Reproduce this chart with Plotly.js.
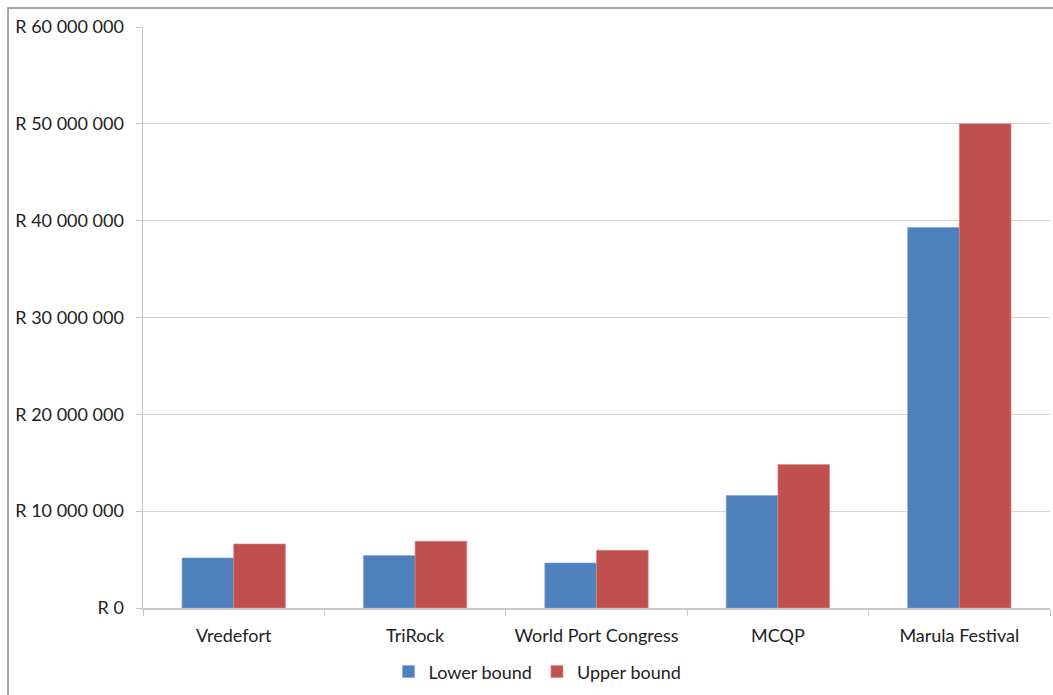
<!DOCTYPE html>
<html>
<head>
<meta charset="utf-8">
<script src="https://cdn.plot.ly/plotly-3.0.1.min.js"></script>
<style>html,body{margin:0;padding:0;background:#fff;}#chart{width:1053px;height:695px;}</style>
</head>
<body>
<div id="chart"></div>
<script>
const categories = ["Vredefort", "TriRock", "World Port Congress", "MCQP", "Marula Festival"];
const lowerBound = [5170000, 5410000, 4650000, 11610000, 39300000];
const upperBound = [6620000, 6890000, 5960000, 14820000, 50000000];
const yTickVals = [0, 10000000, 20000000, 30000000, 40000000, 50000000, 60000000];
const yTickText = ["R 0", "R 10 000 000", "R 20 000 000", "R 30 000 000", "R 40 000 000", "R 50 000 000", "R 60 000 000"];

const font = {family: "Lato, 'Open Sans', sans-serif", size: 18, color: "#222"};

const data = [
  {type: "bar", name: "Lower bound", x: categories, y: lowerBound,
   marker: {color: "#4F81BD", line: {color: "#7fa3d3", width: 0.6}}, hoverinfo: "x+y"},
  {type: "bar", name: "Upper bound", x: categories, y: upperBound,
   marker: {color: "#C0504D", line: {color: "#d98a88", width: 0.6}}, hoverinfo: "x+y"}
];

const layout = {
  width: 1053, height: 695,
  margin: {l: 143, r: 3, t: 27, b: 87},
  paper_bgcolor: "#fff", plot_bgcolor: "#fff",
  font: font,
  barmode: "group", bargap: 0.43, bargroupgap: 0,
  showlegend: true,
  legend: {orientation: "h", x: 0.435, xanchor: "center", y: -0.11, yanchor: "middle",
           font: font, itemwidth: 30, traceorder: "normal"},
  xaxis: {
    type: "category", showgrid: false, showline: true, linecolor: "#c8c8c8", linewidth: 1.5,
    ticks: "outside", tickson: "boundaries", ticklen: 6, tickcolor: "#c8c8c8",
    tickfont: font, ticklabelstandoff: 11, zeroline: false
  },
  yaxis: {
    range: [0, 60000000], tickvals: yTickVals, ticktext: yTickText,
    showgrid: true, gridcolor: "#d4d4d4", gridwidth: 1,
    showline: true, linecolor: "#c8c8c8", linewidth: 1.5,
    ticks: "outside", ticklen: 6, tickcolor: "#c8c8c8",
    tickfont: font, ticklabelstandoff: 8, zeroline: false
  },
  shapes: [
    {type: "rect", xref: "paper", yref: "paper", x0: -0.1488, x1: 1.2, y0: -0.3, y1: 1.0327,
     line: {color: "#8c8c8c", width: 1.5}, fillcolor: "rgba(0,0,0,0)", layer: "below"}
  ]
};

Plotly.newPlot("chart", data, layout, {displayModeBar: false, staticPlot: true});
</script>
</body>
</html>
